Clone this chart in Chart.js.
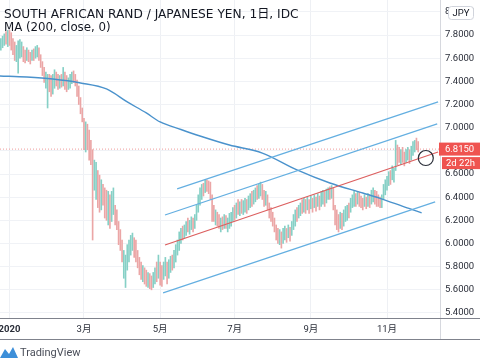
<!DOCTYPE html>
<html>
<head>
<meta charset="utf-8">
<script src="https://cdn.jsdelivr.net/npm/chart.js@4.4.1/dist/chart.umd.min.js"></script>
<style>
  html, body { margin: 0; padding: 0; background: #fff; }
  #wrap { width: 480px; height: 360px; }
</style>
</head>
<body>
<div id="wrap"><canvas id="zarChart" width="480" height="360"></canvas></div>
<script>
// 日足 ZAR/JPY: index 0 = 2020-01-01, one step per trading day
const firstIdx = -5;
const highs = [
  7.77, 7.79, 7.81, 7.83, 7.84, 7.84, 7.82, 7.77, 7.74, 7.71,
  7.75, 7.76, 7.74, 7.70, 7.67, 7.69, 7.67, 7.65, 7.67, 7.68,
  7.70, 7.71, 7.69, 7.63, 7.57, 7.52, 7.48, 7.46, 7.46, 7.45,
  7.46, 7.50, 7.48, 7.46, 7.45, 7.46, 7.52, 7.48, 7.45, 7.43,
  7.46, 7.48, 7.49, 7.46, 7.41, 7.36, 7.26, 7.17, 7.08, 7.05,
  7.03, 6.98, 6.89, 6.81, 6.72, 6.70, 6.63, 6.59, 6.55, 6.51,
  6.48, 6.46, 6.45, 6.42, 6.45, 6.48, 6.33, 6.29, 6.19, 6.12,
  6.03, 5.94, 5.90, 5.99, 6.03, 6.07, 6.09, 6.05, 6.03, 5.94,
  5.88, 5.84, 5.81, 5.79, 5.77, 5.75, 5.74, 5.72, 5.75, 5.79,
  5.84, 5.90, 5.84, 5.81, 5.84, 5.88, 5.84, 5.86, 5.89, 5.90,
  5.94, 5.99, 6.03, 6.10, 6.13, 6.15, 6.16, 6.19, 6.22, 6.20,
  6.23, 6.22, 6.25, 6.33, 6.42, 6.48, 6.51, 6.52, 6.55, 6.55,
  6.54, 6.53, 6.42, 6.33, 6.29, 6.27, 6.25, 6.22, 6.23, 6.25,
  6.24, 6.22, 6.26, 6.27, 6.31, 6.33, 6.35, 6.38, 6.36, 6.38,
  6.37, 6.39, 6.38, 6.41, 6.43, 6.45, 6.46, 6.48, 6.50, 6.51,
  6.53, 6.51, 6.46, 6.45, 6.42, 6.35, 6.31, 6.27, 6.22, 6.16,
  6.13, 6.12, 6.10, 6.13, 6.15, 6.13, 6.16, 6.14, 6.19, 6.25,
  6.29, 6.31, 6.33, 6.35, 6.38, 6.39, 6.38, 6.40, 6.38, 6.41,
  6.39, 6.42, 6.40, 6.43, 6.41, 6.45, 6.46, 6.45, 6.47, 6.48,
  6.49, 6.50, 6.48, 6.33, 6.29, 6.25, 6.27, 6.26, 6.29, 6.32,
  6.33, 6.35, 6.39, 6.42, 6.45, 6.43, 6.45, 6.44, 6.41, 6.39,
  6.42, 6.40, 6.43, 6.42, 6.46, 6.48, 6.46, 6.45, 6.42, 6.40,
  6.42, 6.51, 6.55, 6.58, 6.62, 6.63, 6.67, 6.65, 6.89, 6.85,
  6.83, 6.81, 6.83, 6.79, 6.81, 6.83, 6.81, 6.84, 6.88, 6.89,
  6.91, 6.88
];
const lows = [
  7.67, 7.69, 7.71, 7.72, 7.70, 7.71, 7.67, 7.63, 7.58, 7.57,
  7.47, 7.60, 7.61, 7.57, 7.56, 7.58, 7.57, 7.55, 7.58, 7.58,
  7.60, 7.61, 7.58, 7.52, 7.45, 7.39, 7.34, 7.17, 7.31, 7.27,
  7.29, 7.34, 7.36, 7.33, 7.34, 7.35, 7.36, 7.33, 7.31, 7.33,
  7.34, 7.38, 7.39, 7.36, 7.27, 7.20, 7.12, 7.05, 6.81, 6.79,
  6.81, 6.72, 6.68, 6.03, 6.46, 6.38, 6.31, 6.27, 6.29, 6.33,
  6.22, 6.20, 6.16, 6.13, 6.19, 6.25, 6.16, 6.12, 5.99, 5.94,
  5.84, 5.70, 5.62, 5.77, 5.84, 5.90, 5.94, 5.88, 5.84, 5.79,
  5.73, 5.69, 5.67, 5.65, 5.63, 5.62, 5.61, 5.60, 5.62, 5.65,
  5.67, 5.70, 5.64, 5.63, 5.69, 5.72, 5.65, 5.70, 5.75, 5.77,
  5.79, 5.84, 5.90, 5.94, 6.00, 6.03, 6.05, 6.07, 6.10, 6.08,
  6.12, 6.10, 6.13, 6.20, 6.27, 6.33, 6.38, 6.41, 6.44, 6.45,
  6.43, 6.38, 6.19, 6.19, 6.16, 6.15, 6.13, 6.10, 6.12, 6.13,
  6.13, 6.10, 6.13, 6.15, 6.19, 6.20, 6.22, 6.25, 6.24, 6.26,
  6.25, 6.27, 6.26, 6.29, 6.31, 6.32, 6.34, 6.36, 6.38, 6.39,
  6.41, 6.38, 6.32, 6.33, 6.29, 6.22, 6.19, 6.15, 6.10, 6.03,
  6.00, 5.99, 5.96, 6.00, 6.03, 6.01, 6.05, 6.02, 6.07, 6.12,
  6.15, 6.19, 6.22, 6.24, 6.26, 6.27, 6.26, 6.29, 6.26, 6.30,
  6.27, 6.31, 6.28, 6.32, 6.29, 6.32, 6.34, 6.32, 6.35, 6.38,
  6.38, 6.39, 6.29, 6.16, 6.12, 6.10, 6.13, 6.12, 6.15, 6.19,
  6.20, 6.22, 6.27, 6.31, 6.32, 6.32, 6.34, 6.32, 6.31, 6.29,
  6.32, 6.30, 6.32, 6.31, 6.34, 6.36, 6.34, 6.32, 6.32, 6.31,
  6.31, 6.38, 6.42, 6.46, 6.50, 6.51, 6.55, 6.53, 6.63, 6.68,
  6.70, 6.68, 6.70, 6.67, 6.70, 6.72, 6.69, 6.72, 6.76, 6.79,
  6.81, 6.79
];
// u = 陽線, d = 陰線
const dirs = (
  'uuududdddu uuudduddud uuddddu udd uuddududdu uudddddddu ' +
  'dddduuddud dduduudddd duuuuuuddd dduddudduu dudduuduud ' +
  'uuuuuduudu uduuuuudud dddduddudu duuuududud uuduuduudu ' +
  'uddudddddd duduududuu uduudududu dududuuduu dudddduduu ' +
  'uduuududdd ududuudddd uuuuuduuud dudduuduuu dd'
).replace(/ /g, '');

// MA(200) を読み取った点
const maIdx = [-5.5, 10, 25, 41, 56, 68, 79, 87, 99, 110, 127, 146, 166, 185, 204, 214, 229.6, 238];
const maVal = [7.446, 7.437, 7.420, 7.386, 7.334, 7.222, 7.127, 7.049, 6.984, 6.928, 6.850, 6.781, 6.635, 6.522, 6.436, 6.390, 6.307, 6.265];

// トレンドチャネル (index, price)
const chTop = [[96.8, 6.471], [247.5, 7.222]];
const chUpper = [[89.8, 6.246], [247, 7.032]];
const chMid = [[89.8, 5.987], [247.5, 6.790]];
const chLower = [[88.7, 5.573], [245.8, 6.360]];
const marker = [240.4, 6.738];

const lastPrice = 6.815;
const monthIdx = [0, 43, 87, 130, 174, 218];
const monthLabels = ['2020', '3月', '5月', '7月', '9月', '11月'];
const yTicks = [5.4, 5.6, 5.8, 6.0, 6.2, 6.4, 6.6, 6.8, 7.0, 7.2, 7.4, 7.6, 7.8, 8.0];

const X_MIN = -5.486, X_MAX = 248.6;
const Y_MIN = 5.3568, Y_MAX = 8.1022;
const FONT = 'Roboto, "Liberation Sans", "Noto Sans CJK JP", sans-serif';
const TITLE_FONT = '"DejaVu Sans", "Noto Sans CJK JP", sans-serif';
const UP = '#86d0c6';
const DOWN = '#eba6a6';
const BLUE = '#64afe1';

const bars = highs.map((h, k) => ({ x: firstIdx + k, y: [lows[k], h] }));
const barColors = dirs.split('').map(d => d === 'u' ? UP : DOWN);
const maData = maIdx.map((v, k) => ({ x: v, y: maVal[k] }));
const pts = arr => arr.map(p => ({ x: p[0], y: p[1] }));

function chLine(arr, color) {
  return { type: 'line', data: pts(arr), borderColor: color, borderWidth: 1.3, pointRadius: 0, order: 1 };
}

// 枠線・タイトル・価格ラベル
const chrome = {
  id: 'chrome',
  afterDraw(chart) {
    const c = chart.ctx;
    const y = chart.scales.y;
    c.save();
    c.strokeStyle = '#d6d8de';
    c.lineWidth = 1;
    c.beginPath(); c.moveTo(440.5, 0); c.lineTo(440.5, 339); c.stroke();
    c.strokeStyle = '#7f828c';
    c.beginPath(); c.moveTo(0, 318.5); c.lineTo(480, 318.5); c.stroke();
    c.beginPath(); c.moveTo(0, 339.5); c.lineTo(480, 339.5); c.stroke();

    c.fillStyle = '#131722';
    c.textBaseline = 'alphabetic';
    c.textAlign = 'left';
    c.font = '12.2px ' + TITLE_FONT;
    c.fillText('SOUTH AFRICAN RAND / JAPANESE YEN, 1日, IDC', 4, 18);
    c.font = '11.8px ' + TITLE_FONT;
    c.fillText('MA (200, close, 0)', 4, 31);

    // JPY badge
    c.fillStyle = '#fff';
    c.strokeStyle = '#d1d4dc';
    c.beginPath();
    c.roundRect(448.5, 6.5, 25, 13, 3);
    c.fill(); c.stroke();
    c.fillStyle = '#131722';
    c.font = '9.5px ' + FONT;
    c.textAlign = 'center';
    c.textBaseline = 'middle';
    c.fillText('JPY', 461, 13.5);

    // price label
    const py = y.getPixelForValue(lastPrice);
    c.fillStyle = '#ef5350';
    c.fillRect(439, py - 6.5, 41, 13);
    c.fillRect(442, py + 8, 38, 12);
    c.fillStyle = '#fff';
    c.font = '9.5px ' + FONT;
    c.textAlign = 'left';
    c.fillText(lastPrice.toFixed(4), 445, py + 0.5);
    c.fillText('2d 22h', 446, py + 14.5);

    // TradingView logo
    c.fillStyle = '#3d8fd9';
    c.beginPath();
    c.moveTo(0, 358); c.lineTo(5, 349); c.lineTo(9, 354); c.lineTo(13, 347);
    c.lineTo(18, 358); c.closePath(); c.fill();
    c.fillStyle = '#4a4e59';
    c.font = '11px ' + FONT;
    c.textBaseline = 'middle';
    c.fillText('TradingView', 20, 353);
    c.restore();
  }
};

const ctx = document.getElementById('zarChart').getContext('2d');
const zarChart = new Chart(ctx, {
  type: 'bar',
  data: {
    datasets: [
      { type: 'line', data: [{ x: X_MIN, y: lastPrice }, { x: X_MAX, y: lastPrice }],
        borderColor: '#ef9a9a', borderWidth: 1, borderDash: [1, 2], pointRadius: 0, order: 12 },
      { type: 'bar', data: bars, backgroundColor: barColors, barThickness: 1, order: 10 },
      { type: 'line', data: maData, borderColor: '#4a92cc', borderWidth: 1.4, pointRadius: 0,
        cubicInterpolationMode: 'monotone', order: 2 },
      chLine(chTop, BLUE),
      chLine(chUpper, BLUE),
      chLine(chLower, BLUE),
      chLine(chMid, '#dc5f5f'),
      { type: 'line', data: [{ x: marker[0], y: marker[1] }], showLine: false, pointRadius: 7.5,
        pointBorderColor: '#2a2e39', pointBorderWidth: 1.2, pointBackgroundColor: 'rgba(0,0,0,0)', order: 0 }
    ]
  },
  options: {
    responsive: false,
    animation: false,
    layout: { autoPadding: false, padding: { left: 0, right: 0, top: 0, bottom: 21 } },
    plugins: { legend: { display: false }, tooltip: { enabled: false } },
    scales: {
      x: {
        type: 'linear', min: X_MIN, max: X_MAX, offset: false,
        afterBuildTicks: a => { a.ticks = monthIdx.map(v => ({ value: v })); },
        afterFit: a => { a.height = 21; a.paddingLeft = 0; a.paddingRight = 0; },
        grid: { color: '#eef0f4', drawTicks: false, offset: false },
        border: { display: false },
        ticks: {
          autoSkip: false, maxRotation: 0, padding: 6, color: '#2a2e39',
          font: c => ({ family: FONT, size: 9.5, weight: c.index === 0 ? 'bold' : 'normal' }),
          callback: v => monthLabels[monthIdx.indexOf(v)]
        }
      },
      y: {
        position: 'right', min: Y_MIN, max: Y_MAX,
        afterBuildTicks: a => { a.ticks = yTicks.map(v => ({ value: v })); },
        afterFit: a => { a.width = 40; a.paddingTop = 0; a.paddingBottom = 0; },
        grid: { color: '#f0f2f6', drawTicks: false },
        border: { display: false },
        ticks: { padding: 5, color: '#2a2e39', font: { family: FONT, size: 9.5 },
          callback: v => v.toFixed(4) }
      }
    }
  },
  plugins: [chrome]
});
</script>
</body>
</html>
